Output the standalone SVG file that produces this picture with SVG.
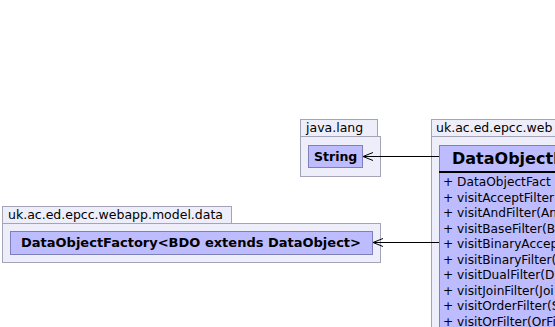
<svg xmlns="http://www.w3.org/2000/svg" width="555" height="327" viewBox="0 0 555 327">
  <style>
    .pkg { fill: #EEEEFB; stroke: #A4A4B8; stroke-width: 1; }
    .cls { fill: #BCBCFF; stroke: #8080B8; stroke-width: 1; }
    .tab { font-family: "DejaVu Sans", sans-serif; font-size: 12.5px; fill: #000; }
    .name { font-family: "DejaVu Sans", sans-serif; font-size: 12.5px; font-weight: bold; fill: #000; }
    .name-lg { font-family: "DejaVu Sans", sans-serif; font-size: 13px; font-weight: bold; fill: #000; }
    .title { font-family: "DejaVu Sans", sans-serif; font-size: 16px; font-weight: bold; fill: #000; }
    .member { font-family: "DejaVu Sans", sans-serif; font-size: 12.2px; fill: #000; }
    .edge { stroke: #000; stroke-width: 1; fill: none; }
  </style>
  <rect width="555" height="327" fill="#FFFFFF"/>

  <!-- package java.lang -->
  <g id="pkg-java-lang">
    <rect class="pkg" x="300.5" y="119.5" width="77" height="17"/>
    <rect class="pkg" x="300.5" y="136.5" width="80" height="40"/>
    <text class="tab" x="306" y="132">java.lang</text>
  </g>
  <g id="String">
    <rect class="cls" x="308.5" y="145.5" width="54" height="22"/>
    <text class="name" x="314" y="161">String</text>
  </g>

  <!-- package uk.ac.ed.epcc.webapp.model.data -->
  <g id="pkg-model-data">
    <rect class="pkg" x="2.5" y="206.5" width="229" height="17"/>
    <rect class="pkg" x="2.5" y="223.5" width="378" height="39"/>
    <text class="tab" x="8" y="219">uk.ac.ed.epcc.webapp.model.data</text>
  </g>
  <g id="DataObjectFactory">
    <rect class="cls" x="10.5" y="231.5" width="362" height="23"/>
    <text class="name-lg" x="21" y="247">DataObjectFactory&lt;BDO extends DataObject&gt;</text>
  </g>

  <!-- package uk.ac.ed.epcc.web... -->
  <g id="pkg-web">
    <rect class="pkg" x="431.5" y="119.5" width="130" height="17"/>
    <rect class="pkg" x="431.5" y="136.5" width="130" height="200"/>
    <text class="tab" x="436" y="132">uk.ac.ed.epcc.web</text>
  </g>
  <g id="DataObjectFilterVisitor">
    <rect class="cls" x="439.5" y="145.5" width="130" height="200"/>
    <text class="title" x="452" y="164">DataObjectF</text>
    <line x1="439" y1="172" x2="555" y2="172" stroke="#000" stroke-width="2"/>
    <text class="member" x="443" y="186">+ DataObjectFact</text>
    <text class="member" x="443" y="201.5">+ visitAcceptFilter</text>
    <text class="member" x="443" y="217">+ visitAndFilter(An</text>
    <text class="member" x="443" y="232.5">+ visitBaseFilter(B</text>
    <text class="member" x="443" y="248">+ visitBinaryAccep</text>
    <text class="member" x="443" y="263.5">+ visitBinaryFilter(</text>
    <text class="member" x="443" y="279">+ visitDualFilter(D</text>
    <text class="member" x="443" y="294.5">+ visitJoinFilter(Joi</text>
    <text class="member" x="443" y="310">+ visitOrderFilter(S</text>
    <text class="member" x="443" y="325.5">+ visitOrFilter(OrFi</text>
  </g>

  <!-- dependencies -->
  <g id="connectors">
    <path class="edge" d="M439,156.5 H363"/>
    <path class="edge" d="M373,152.5 L363,156.5 L373,160.5"/>
    <path class="edge" d="M439,242.5 H373"/>
    <path class="edge" d="M383,238.5 L373,242.5 L383,246.5"/>
  </g>
</svg>
